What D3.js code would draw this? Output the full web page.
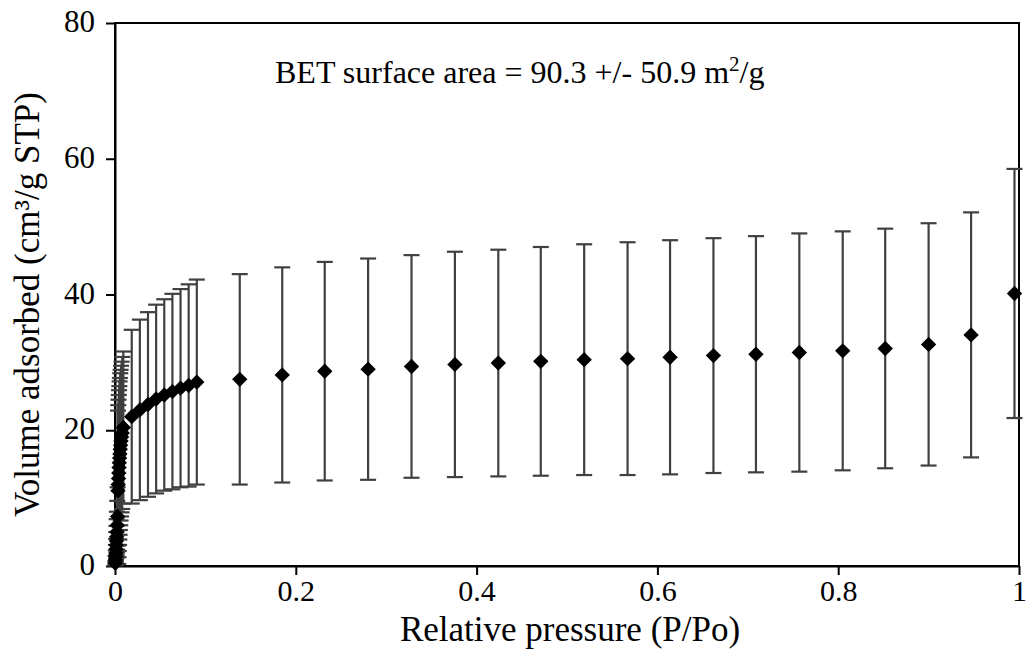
<!DOCTYPE html>
<head>
    <meta charset="utf-8">
    <style type="text/css">
    body { margin: 0; background: white; }
    text { font-family: "Liberation Serif", "Times New Roman", serif; fill: black; }
    </style>
</head>
<body>
    <div id="my_dataviz"></div>

    <script src="https://d3js.org/d3.v7.min.js"></script>
    <script type="text/javascript">

    // relative pressure (P/Po)
    var pressure = [
      0.0004, 0.0006, 0.0008, 0.0010, 0.0012, 0.0014, 0.0016, 0.0018, 0.0021, 0.0025, 0.0029,
      0.0033, 0.0036, 0.0039, 0.0042, 0.0045, 0.0048, 0.0051, 0.0054, 0.0058, 0.0062, 0.0067, 0.0073, 0.0080, 0.0092,
      0.0185, 0.0275, 0.0365, 0.0455, 0.0545, 0.0635, 0.0725, 0.0815, 0.0905,
      0.138, 0.185, 0.232, 0.280, 0.328, 0.376, 0.424, 0.471, 0.519, 0.567,
      0.614, 0.662, 0.709, 0.757, 0.805, 0.852, 0.900, 0.947, 0.995
    ];

    // volume adsorbed (cm3/g STP)
    var volume = [
      0.4, 0.9, 1.4, 1.9, 2.5, 3.1, 3.7, 4.3, 5.0, 6.0, 7.3,
      11.1, 12.0, 12.9, 13.7, 14.5, 15.2, 15.9, 16.5, 17.2, 17.8, 18.4, 19.0, 19.6, 20.4,
      22.0, 23.0, 23.8, 24.6, 25.2, 25.7, 26.2, 26.6, 27.1,
      27.5, 28.15, 28.7, 29.0, 29.4, 29.7, 29.9, 30.15, 30.4, 30.55,
      30.75, 31.0, 31.2, 31.45, 31.7, 32.05, 32.65, 34.05, 40.15
    ];

    // +/- error on each point
    var error = [
      0.3, 0.6, 0.9, 1.2, 1.5, 1.9, 2.2, 2.6, 3.0, 3.6, 4.3,
      11.8, 11.7, 11.6, 11.5, 11.4, 11.3, 11.3, 11.2, 11.2, 11.1, 11.1, 11.1, 11.2, 11.2,
      12.8, 13.3, 13.6, 13.9, 14.1, 14.4, 14.6, 14.9, 15.1,
      15.5, 15.85, 16.1, 16.3, 16.4, 16.6, 16.7, 16.85, 17.0, 17.15,
      17.25, 17.3, 17.4, 17.55, 17.6, 17.65, 17.85, 18.05, 18.35
    ];

    var xTicks = [0, 0.2, 0.4, 0.6, 0.8, 1];
    var yTicks = [0, 20, 40, 60, 80];

    var data = pressure.map(function (p, i) {
      return {p: p, v: volume[i], e: error[i]};
    });

    var margin = {top: 23, right: 8, bottom: 103, left: 115},
        width = 1019 - margin.left,
        height = 566 - margin.top;

    var svg = d3.select("#my_dataviz")
      .append("svg")
        .attr("width", 1027)
        .attr("height", 669)
      .append("g")
        .attr("transform", "translate(" + margin.left + "," + margin.top + ")");

    var x = d3.scaleLinear()
      .domain([0, 1])
      .range([0, width]);

    var y = d3.scaleLinear()
      .domain([0, 80])
      .range([height, 0]);

    // frame around the plot area
    svg.append("rect")
      .attr("x", 0)
      .attr("y", 0)
      .attr("width", width)
      .attr("height", height)
      .style("fill", "none")
      .style("stroke", "black")
      .style("stroke-width", 2);

    // X axis
    var xAxis = svg.append("g")
      .attr("transform", "translate(0," + height + ")")
      .call(d3.axisBottom(x).tickValues(xTicks).tickSizeInner(9).tickSizeOuter(0)
        .tickFormat(function (d) { return d === 0 || d === 1 ? d : d3.format(".1f")(d); }));
    xAxis.select(".domain").style("stroke-width", 2);
    xAxis.selectAll(".tick line").style("stroke-width", 2);
    xAxis.selectAll(".tick text")
      .attr("y", 14)
      .attr("dy", "0.71em")
      .style("font-size", "30px")
      .style("font-family", "Liberation Serif");

    // Y axis
    var yAxis = svg.append("g")
      .call(d3.axisLeft(y).tickValues(yTicks).tickSizeInner(9).tickSizeOuter(0));
    yAxis.select(".domain").style("stroke-width", 2);
    yAxis.selectAll(".tick line").style("stroke-width", 2);
    yAxis.selectAll(".tick text")
      .attr("x", -20)
      .attr("dy", "0.28em")
      .style("font-size", "31px")
      .style("font-family", "Liberation Serif");

    // error bars
    var bars = svg.append("g");
    bars.selectAll("line.bar")
      .data(data)
      .enter()
      .append("line")
        .attr("x1", function (d) { return x(d.p); })
        .attr("x2", function (d) { return x(d.p); })
        .attr("y1", function (d) { return y(d.v + d.e); })
        .attr("y2", function (d) { return y(Math.max(0, d.v - d.e)); })
        .style("stroke", "#404040")
        .style("stroke-width", 2.2);
    [1, -1].forEach(function (s) {
      bars.selectAll("line.cap" + s)
        .data(data.filter(function (d) { return s > 0 || d.v - d.e > 0; }))
        .enter()
        .append("line")
          .attr("x1", function (d) { return x(d.p) - 8; })
          .attr("x2", function (d) { return x(d.p) + 8; })
          .attr("y1", function (d) { return y(d.v + s * d.e); })
          .attr("y2", function (d) { return y(d.v + s * d.e); })
          .style("stroke", "#404040")
          .style("stroke-width", 2.2);
    });

    // diamond markers
    svg.append("g")
      .selectAll("path")
      .data(data)
      .enter()
      .append("path")
        .attr("d", d3.symbol(d3.symbolSquare, 118))
        .attr("transform", function (d) { return "translate(" + x(d.p) + "," + y(d.v) + ") rotate(45)"; })
        .style("fill", "black");

    // axis titles
    svg.append("text")
      .attr("x", width / 2 + 3)
      .attr("y", height + 75)
      .attr("text-anchor", "middle")
      .style("font-size", "35px")
      .text("Relative pressure (P/Po)");

    svg.append("text")
      .attr("transform", "translate(" + (-76) + "," + (height / 2 + 10) + ") rotate(-90)")
      .attr("text-anchor", "middle")
      .style("font-size", "35px")
      .text("Volume adsorbed (cm³/g STP)");

    // annotation
    var note = svg.append("text")
      .attr("x", 160)
      .attr("y", 60)
      .style("font-size", "32px");
    note.append("tspan").text("BET surface area = 90.3 +/- 50.9 m");
    note.append("tspan").attr("dy", -12).style("font-size", "21px").text("2");
    note.append("tspan").attr("dy", 12).text("/g");

    </script>
</body>
